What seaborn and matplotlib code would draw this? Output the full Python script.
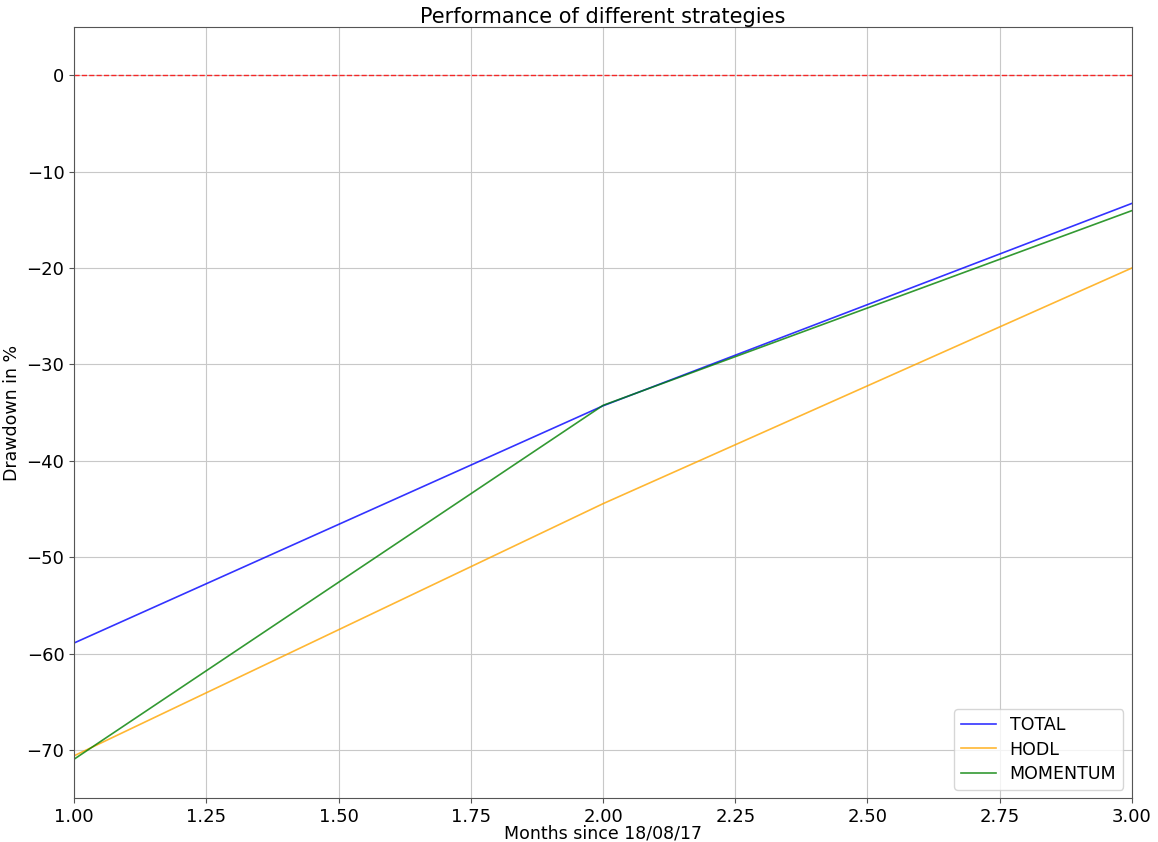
import numpy as np
import pandas as pd
import matplotlib
matplotlib.use('Agg')
import matplotlib.pyplot as plt
import seaborn as sns

months = [1.0, 2.0, 3.0]
total = [-58.9, -34.3, -13.3]
hodl = [-70.6, -44.45, -20.0]
momentum = [-70.95, -34.25, -14.05]

df = pd.DataFrame({
    'month': months * 3,
    'drawdown': total + hodl + momentum,
    'strategy': ['TOTAL'] * 3 + ['HODL'] * 3 + ['MOMENTUM'] * 3,
})

plt.rc('font', size=13)
fig, ax = plt.subplots(figsize=(11.58, 8.42), dpi=100)
fig.subplots_adjust(left=0.064, right=0.9775, top=0.968, bottom=0.052)

sns.lineplot(data=df, x='month', y='drawdown', hue='strategy',
             palette={'TOTAL': 'blue', 'HODL': 'orange', 'MOMENTUM': 'green'},
             alpha=0.8, linewidth=1.2, ax=ax)
ax.axhline(0, color='red', linestyle='--', linewidth=1, alpha=0.8)

ax.set_xlim(1, 3)
ax.set_ylim(-75, 5)
ax.set_xticks(np.arange(1, 3.01, 0.25))
ax.grid(True, color='#c8c8c8', linewidth=0.8)
for s in ax.spines.values():
    s.set_color('#555555')
ax.tick_params(color='#555555')
ax.set_title('Performance of different strategies', fontsize=15, pad=2)
ax.set_xlabel('Months since 18/08/17', fontsize=12.5, labelpad=-1)
ax.set_ylabel('Drawdown in %', fontsize=12.5)
ax.legend(loc='lower right', fontsize=12.5, labelspacing=0.35)

fig.savefig('out.png', dpi=100)
